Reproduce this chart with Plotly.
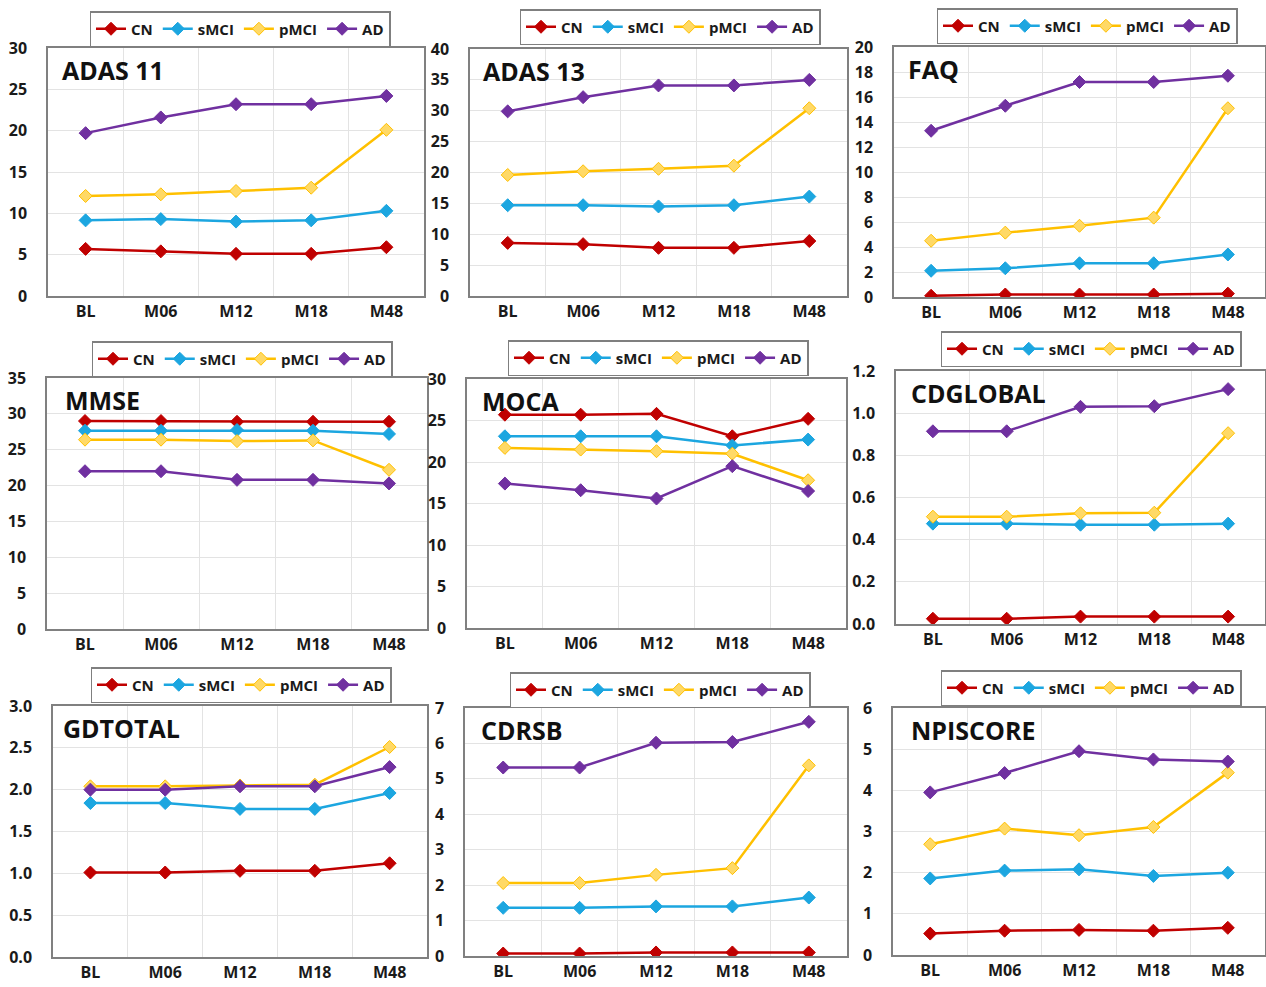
import plotly.graph_objects as go

W, H = 1266, 987

categories = ["BL", "M06", "M12", "M18", "M48"]
groups = ["CN", "sMCI", "pMCI", "AD"]

adas11 = {"CN": [5.7, 5.4, 5.1, 5.1, 5.9],
          "sMCI": [9.15, 9.3, 9.0, 9.15, 10.3],
          "pMCI": [12.1, 12.3, 12.7, 13.1, 20.1],
          "AD": [19.7, 21.6, 23.2, 23.2, 24.2]}
adas13 = {"CN": [8.6, 8.4, 7.8, 7.8, 8.9],
          "sMCI": [14.7, 14.7, 14.5, 14.7, 16.1],
          "pMCI": [19.6, 20.2, 20.6, 21.1, 30.4],
          "AD": [29.9, 32.2, 34.1, 34.1, 35.0]}
faq = {"CN": [0.1, 0.2, 0.2, 0.2, 0.27],
       "sMCI": [2.1, 2.3, 2.7, 2.7, 3.4],
       "pMCI": [4.5, 5.15, 5.7, 6.35, 15.1],
       "AD": [13.3, 15.3, 17.2, 17.2, 17.7]}
mmse = {"CN": [29.0, 29.0, 28.9, 28.9, 28.9],
        "sMCI": [27.65, 27.65, 27.75, 27.65, 27.2],
        "pMCI": [26.4, 26.4, 26.2, 26.3, 22.2],
        "AD": [22.0, 22.0, 20.8, 20.8, 20.3]}
moca = {"CN": [25.7, 25.7, 25.8, 23.1, 25.2],
        "sMCI": [23.1, 23.1, 23.1, 22.0, 22.7],
        "pMCI": [21.7, 21.5, 21.3, 21.0, 17.8],
        "AD": [17.4, 16.6, 15.6, 19.5, 16.5]}
cdglobal = {"CN": [0.025, 0.025, 0.035, 0.035, 0.035],
            "sMCI": [0.476, 0.476, 0.471, 0.471, 0.476],
            "pMCI": [0.509, 0.509, 0.525, 0.528, 0.905],
            "AD": [0.914, 0.914, 1.03, 1.033, 1.114]}
gdtotal = {"CN": [1.01, 1.01, 1.03, 1.03, 1.12],
           "sMCI": [1.84, 1.84, 1.77, 1.77, 1.96],
           "pMCI": [2.04, 2.04, 2.05, 2.06, 2.51],
           "AD": [2.0, 2.0, 2.04, 2.04, 2.27]}
cdrsb = {"CN": [0.07, 0.07, 0.1, 0.1, 0.1],
         "sMCI": [1.36, 1.36, 1.4, 1.4, 1.65],
         "pMCI": [2.06, 2.06, 2.29, 2.48, 5.38],
         "AD": [5.32, 5.32, 6.02, 6.04, 6.61]}
npiscore = {"CN": [0.52, 0.59, 0.61, 0.59, 0.66],
            "sMCI": [1.86, 2.05, 2.08, 1.92, 2.0],
            "pMCI": [2.69, 3.07, 2.91, 3.11, 4.43],
            "AD": [3.95, 4.42, 4.95, 4.75, 4.70]}

panel_titles = ["ADAS 11", "ADAS 13", "FAQ", "MMSE", "MOCA", "CDGLOBAL",
                "GDTOTAL", "CDRSB", "NPISCORE"]
panel_data = [adas11, adas13, faq, mmse, moca, cdglobal, gdtotal, cdrsb, npiscore]
y_max = [30, 40, 20, 35, 30, 1.2, 3.0, 7, 6]
y_step = [5, 5, 2, 5, 5, 0.2, 0.5, 1, 1]
y_fmt = ["d", "d", "d", "d", "d", ".1f", ".1f", "d", "d"]

# layout (pixels): plot boxes and legend centres
boxes = [(48, 424, 48, 296), (470, 847, 49, 296), (894, 1265, 47, 297),
         (47, 427, 378, 629), (467, 846, 379, 628), (896, 1265, 371, 624),
         (53, 427, 706, 957), (465, 847, 708, 956), (893, 1265, 708, 955)]
legend_pos = [(240, 29), (670, 27), (1087, 26),
              (242, 359), (658, 358), (1091, 349),
              (241, 685), (660, 690), (1091, 688)]
title_shift = [12, 11, 12, 16, 13, 13, 8, 14, 16]

line_colors = {"CN": "#C00000", "sMCI": "#1CA6E0", "pMCI": "#FFC000", "AD": "#7030A0"}
marker_colors = {"CN": "#C00000", "sMCI": "#1CA6E0", "pMCI": "#FFD966", "AD": "#7030A0"}

FONT = "Open Sans"
fig = go.Figure()
layout = dict(width=W, height=H, margin=dict(l=0, r=0, t=0, b=0, autoexpand=False),
              paper_bgcolor="white", plot_bgcolor="white", showlegend=True,
              font=dict(family=FONT, color="#1a1a1a"))
annotations = []

for i in range(9):
    n = i + 1
    sfx = "" if n == 1 else str(n)
    lg = "legend" if n == 1 else f"legend{n}"
    d = panel_data[i]
    for g in groups:
        fig.add_trace(go.Scatter(
            x=categories, y=d[g], name=g, mode="lines+markers",
            line=dict(color=line_colors[g], width=2.5),
            marker=dict(symbol="diamond", size=10, color=marker_colors[g],
                        line=dict(color=line_colors[g], width=1)),
            xaxis=f"x{sfx}", yaxis=f"y{sfx}", legend=lg))
    x0, x1, y0, y1 = boxes[i]
    layout[f"xaxis{sfx}"] = dict(
        domain=[x0 / W, x1 / W], anchor=f"y{sfx}", type="category",
        range=[-0.5, 4.5], tickson="boundaries", showgrid=True,
        gridcolor="#E3E3E3", gridwidth=1, showline=True, mirror=True,
        linecolor="#808080", linewidth=1.5, ticks="outside", ticklen=13,
        tickcolor="rgba(0,0,0,0)", automargin=False,
        tickfont=dict(family=FONT, size=16, weight="bold", color="#1a1a1a"))
    layout[f"yaxis{sfx}"] = dict(
        domain=[1 - y1 / H, 1 - y0 / H], anchor=f"x{sfx}",
        range=[0, y_max[i]], dtick=y_step[i], tick0=0, tickformat=y_fmt[i],
        showgrid=True, gridcolor="#E3E3E3", gridwidth=1, zeroline=False,
        showline=True, mirror=True, linecolor="#808080", linewidth=1.5,
        ticks="outside", ticklen=16, tickcolor="rgba(0,0,0,0)", automargin=False,
        tickfont=dict(family=FONT, size=16, weight="bold", color="#1a1a1a"))
    lx, ly = legend_pos[i]
    layout[lg] = dict(
        x=lx / W, y=1 - ly / H, xanchor="center", yanchor="middle",
        xref="container", yref="container", orientation="h",
        bgcolor="white", bordercolor="#7f7f7f", borderwidth=1.5,
        font=dict(family=FONT, size=15, weight="bold", color="#1a1a1a"),
        itemwidth=30, tracegroupgap=0, itemclick=False)
    annotations.append(dict(
        text=panel_titles[i], xref=f"x{sfx} domain", yref=f"y{sfx} domain",
        x=0, y=1, xanchor="left", yanchor="top", xshift=title_shift[i], yshift=-3,
        showarrow=False,
        font=dict(family=FONT, size=25, weight="bold", color="#111111")))

layout["annotations"] = annotations
fig.update_layout(**layout)
fig.write_html(
    "out.html",
    config={"displayModeBar": False},
    post_script="document.body.style.margin='0';document.body.style.overflow='hidden';")
